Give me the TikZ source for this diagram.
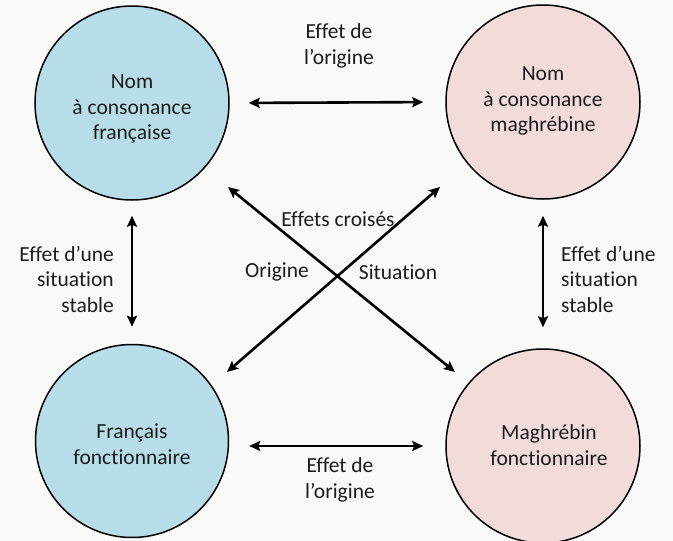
\documentclass[tikz,border=0pt]{standalone}
\usepackage{fontspec}
\setmainfont{Carlito}[Ligatures=NoCommon]
\usetikzlibrary{arrows.meta}
\definecolor{bgc}{HTML}{F9FAF7}
\definecolor{bluec}{HTML}{B7DDE8}
\definecolor{pinkc}{HTML}{F2DCDB}
\definecolor{txtc}{HTML}{1C1C1C}
\tikzset{
  circ/.style={circle, draw=black, line width=1.5pt, minimum size=#1, inner sep=0pt},
  lbl/.style={font=\fontsize{21.5}{25.5}\selectfont, text=txtc, align=center, inner sep=0pt},
  arr/.style={line width=2.6pt, {Stealth[length=11pt,width=10pt,inset=2pt]}-{Stealth[length=11pt,width=10pt,inset=2pt]}},
}
\begin{document}
\begin{tikzpicture}[x=1pt,y=-1pt]
\fill[bgc] (0,0) rectangle (673,541);
\useasboundingbox (0,0) rectangle (673,541);
% circles
\node[circ=194pt, fill=bluec] (tl) at (132,103) {};
\node[circ=194pt, fill=pinkc] (tr) at (543,102) {};
\node[circ=193pt, fill=bluec] (bl) at (132,441) {};
\node[circ=194pt, fill=pinkc] (br) at (543,446) {};
% circle texts
\node[lbl] (tlt) at (132,109) {Nom\\à consonance\\française};
\node[lbl] (trt) at (543,101) {Nom\\à consonance\\maghrébine};
\node[lbl] (blt) at (132,444) {Français\\fonctionnaire};
\node[lbl] (brt) at (549,445) {Maghrébin\\fonctionnaire};
% arrows
\draw[arr, shorten <=19pt, shorten >=22pt] (tl.east) -- (tr.west);
\draw[arr, shorten <=20pt, shorten >=22pt] (bl.east |- br.west) -- (br.west);
\draw[arr, shorten <=15pt, shorten >=17pt] (tl.south) -- (bl.north);
\draw[arr, shorten <=16pt, shorten >=21pt] (tr.south -| br.north) -- (br.north);
\coordinate (d1a) at (228,187);
\coordinate (d1b) at (455,372);
\coordinate (d2a) at (227,372);
\coordinate (d2b) at (440,187);
\draw[arr] (d1a) -- (d1b);
\draw[arr] (d2a) -- (d2b);
% labels
\node[lbl] (top) at (339,46) {Effet de\\l’origine};
\node[lbl] (bot) at (340,480) {Effet de\\l’origine};
\node[lbl, align=right, anchor=east] (left) at (114,279) {Effet d’une\\situation\\stable};
\node[lbl, align=left, anchor=west] (right) at (561,279) {Effet d’une\\situation\\stable};
\node[lbl] (cr) at (338,219) {Effets croisés};
\node[lbl] (ori) at (277,272) {Origine};
\node[lbl] (sit) at (398,272) {Situation};
\end{tikzpicture}
\end{document}
